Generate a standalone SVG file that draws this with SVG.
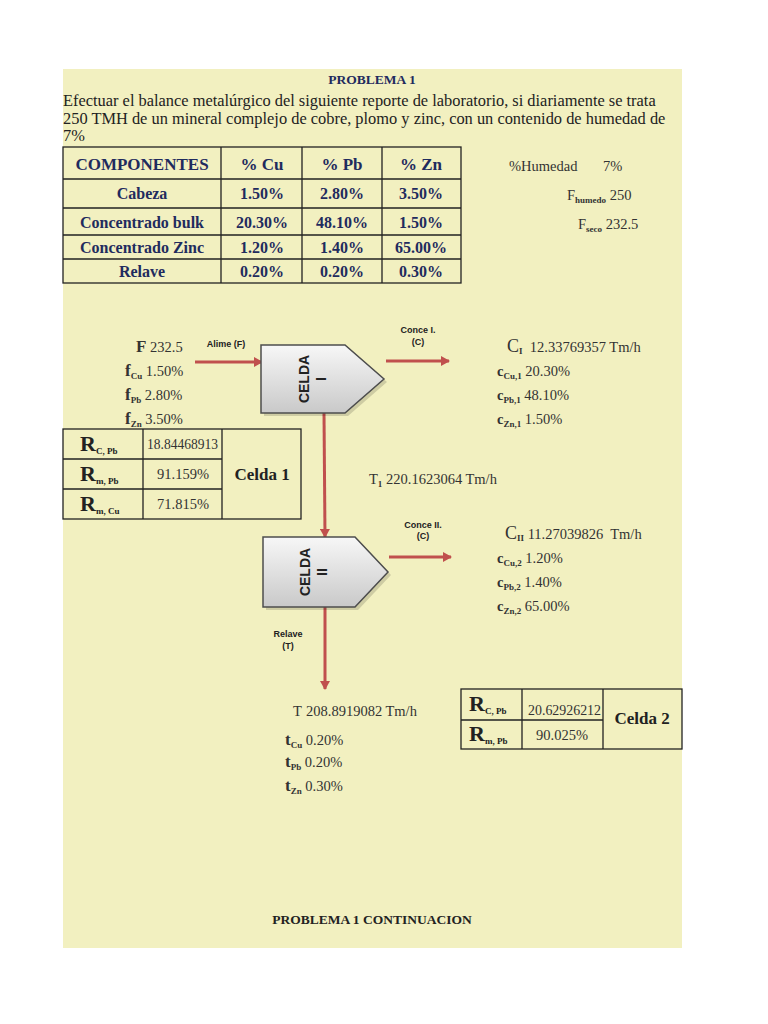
<svg xmlns="http://www.w3.org/2000/svg" width="768" height="1024" viewBox="0 0 768 1024">
<defs>
<marker id="ah" markerWidth="10" markerHeight="10" refX="8" refY="5" orient="auto" markerUnits="userSpaceOnUse"><path d="M0,0 L9,5 L0,10 Z" fill="#c0504d"/></marker>
<linearGradient id="cg" x1="0" y1="0" x2="0" y2="1"><stop offset="0" stop-color="#f7f7f7"/><stop offset="1" stop-color="#c9c9c9"/></linearGradient>
<style>
.bg{fill:#f2f0c0}
.t{font-family:"Liberation Serif",serif;fill:#222}
.h{font-family:"Liberation Serif",serif;font-weight:bold;fill:#1f2b5e}
.v{font-family:"Liberation Serif",serif;font-size:14.5px;fill:#333}
.lb{font-family:"Liberation Sans",Arial,sans-serif;font-weight:bold;font-size:9px;fill:#222}
.cl{font-family:"Liberation Sans",Arial,sans-serif;font-weight:bold;font-size:14px;fill:#222}
.ln{stroke:#222;stroke-width:1.3;fill:none}
.ar{stroke:#c0504d;stroke-width:3;fill:none}
.cell{fill:url(#cg);stroke:#4d4d4d;stroke-width:1.5}
.sb{font-weight:bold;font-size:9px}
</style>
</defs>
<rect width="768" height="1024" fill="#ffffff"/>
<rect class="bg" x="63" y="69" width="619" height="879"/>

<g id="title">
<text class="h" x="372" y="84" font-size="13.5" text-anchor="middle">PROBLEMA 1</text>
<text class="t" x="63" y="106" font-size="16.4">Efectuar el balance metalúrgico del siguiente reporte de laboratorio, si diariamente se trata</text>
<text class="t" x="63" y="124" font-size="16.4">250 TMH de un mineral complejo de cobre, plomo y zinc, con un contenido de humedad de</text>
<text class="t" x="63" y="141" font-size="16.4">7%</text>
</g>

<g id="tabla-componentes">
<rect class="ln" x="63" y="147" width="398" height="136"/>
<path class="ln" d="M63,179 H461 M63,208 H461 M63,235 H461 M63,259 H461 M221,147 V283 M302,147 V283 M382,147 V283"/>
<g class="h" text-anchor="middle" font-size="17">
<text x="142" y="170">COMPONENTES</text>
<text x="262" y="170">% Cu</text>
<text x="342" y="170">% Pb</text>
<text x="421" y="170">% Zn</text>
</g>
<g class="h" text-anchor="middle" font-size="16">
<text x="142" y="199">Cabeza</text><text x="262" y="199">1.50%</text><text x="342" y="199">2.80%</text><text x="421" y="199">3.50%</text>
<text x="142" y="228">Concentrado bulk</text><text x="262" y="228">20.30%</text><text x="342" y="228">48.10%</text><text x="421" y="228">1.50%</text>
<text x="142" y="253">Concentrado Zinc</text><text x="262" y="253">1.20%</text><text x="342" y="253">1.40%</text><text x="421" y="253">65.00%</text>
<text x="142" y="277">Relave</text><text x="262" y="277">0.20%</text><text x="342" y="277">0.20%</text><text x="421" y="277">0.30%</text>
</g>
</g>

<g id="humedad">
<text class="v" x="509" y="171" font-size="17.5">%Humedad</text>
<text class="v" x="603" y="171" font-size="17.5">7%</text>
<text class="v" x="567" y="200">F<tspan class="sb" font-size="7" dy="3">humedo</tspan><tspan dy="-3"> 250</tspan></text>
<text class="v" x="578" y="229">F<tspan class="sb" font-size="7" dy="3">seco</tspan><tspan dy="-3"> 232.5</tspan></text>
</g>

<g id="connectors">
<line class="ar" x1="195" y1="362" x2="262" y2="362" marker-end="url(#ah)"/>
<line class="ar" x1="386" y1="361" x2="449" y2="361" marker-end="url(#ah)"/>
<line class="ar" x1="324" y1="413" x2="325" y2="537" marker-end="url(#ah)"/>
<line class="ar" x1="389" y1="557" x2="451" y2="557" marker-end="url(#ah)"/>
<line class="ar" x1="325" y1="607" x2="325" y2="689" marker-end="url(#ah)"/>
<text class="lb" x="226" y="347" text-anchor="middle">Alime (F)</text>
<text class="lb" x="418" y="333" text-anchor="middle">Conce I.</text>
<text class="lb" x="418" y="345" text-anchor="middle">(C)</text>
<text class="lb" x="423" y="528" text-anchor="middle">Conce II.</text>
<text class="lb" x="423" y="539" text-anchor="middle">(C)</text>
<text class="lb" x="288" y="637" text-anchor="middle">Relave</text>
<text class="lb" x="288" y="649" text-anchor="middle">(T)</text>
</g>

<g id="celda-I">
<path d="M264,348 H348 L387,382 L348,416 H264 Z" fill="#000" opacity="0.15"/>
<path class="cell" d="M261,345 H345 L384,379 L345,413 H261 Z"/>
<text class="cl" transform="translate(309,379) rotate(-90)" text-anchor="middle">CELDA</text>
<text class="cl" transform="translate(326,379) rotate(-90)" text-anchor="middle">I</text>
</g>

<g id="celda-II">
<path d="M266,540 H358 L391,575 L358,610 H266 Z" fill="#000" opacity="0.15"/>
<path class="cell" d="M263,537 H355 L388,572 L355,607 H263 Z"/>
<text class="cl" transform="translate(310,572) rotate(-90)" text-anchor="middle">CELDA</text>
<text class="cl" transform="translate(327,572) rotate(-90)" text-anchor="middle">II</text>
</g>

<g id="alimentacion">
<text class="v" x="136" y="352"><tspan font-size="17" font-weight="bold">F</tspan> 232.5</text>
<text class="v" x="125" y="376"><tspan font-size="17" font-weight="bold">f</tspan><tspan class="sb" dy="3">Cu</tspan><tspan dy="-3"> 1.50%</tspan></text>
<text class="v" x="125" y="400"><tspan font-size="17" font-weight="bold">f</tspan><tspan class="sb" dy="3">Pb</tspan><tspan dy="-3"> 2.80%</tspan></text>
<text class="v" x="125" y="424"><tspan font-size="17" font-weight="bold">f</tspan><tspan class="sb" dy="3">Zn</tspan><tspan dy="-3"> 3.50%</tspan></text>
</g>

<g id="concentrado-I">
<text class="v" x="507" y="352"><tspan font-size="18">C</tspan><tspan class="sb" font-size="10" dy="2">I</tspan><tspan dy="-2">&#160; 12.33769357 Tm/h</tspan></text>
<text class="v" x="497" y="376"><tspan font-weight="bold">c</tspan><tspan class="sb" dy="3">Cu,1</tspan><tspan dy="-3"> 20.30%</tspan></text>
<text class="v" x="497" y="400"><tspan font-weight="bold">c</tspan><tspan class="sb" dy="3">Pb,1</tspan><tspan dy="-3"> 48.10%</tspan></text>
<text class="v" x="497" y="424"><tspan font-weight="bold">c</tspan><tspan class="sb" dy="3">Zn,1</tspan><tspan dy="-3"> 1.50%</tspan></text>
</g>

<g id="relave-1">
<text class="v" x="369" y="484">T<tspan class="sb" dy="3">1</tspan><tspan dy="-3" x="386">220.1623064 Tm/h</tspan></text>
</g>

<g id="concentrado-II">
<text class="v" x="505" y="539"><tspan font-size="18">C</tspan><tspan class="sb" font-size="10" dy="2">II</tspan><tspan dy="-2"> 11.27039826&#160; Tm/h</tspan></text>
<text class="v" x="497" y="563"><tspan font-weight="bold">c</tspan><tspan class="sb" dy="3">Cu,2</tspan><tspan dy="-3"> 1.20%</tspan></text>
<text class="v" x="497" y="587"><tspan font-weight="bold">c</tspan><tspan class="sb" dy="3">Pb,2</tspan><tspan dy="-3"> 1.40%</tspan></text>
<text class="v" x="497" y="611"><tspan font-weight="bold">c</tspan><tspan class="sb" dy="3">Zn,2</tspan><tspan dy="-3"> 65.00%</tspan></text>
</g>

<g id="relave-final">
<text class="v" x="293" y="716">T<tspan x="306">208.8919082 Tm/h</tspan></text>
<text class="v" x="285" y="745"><tspan font-size="17" font-weight="bold">t</tspan><tspan class="sb" dy="3">Cu</tspan><tspan dy="-3"> 0.20%</tspan></text>
<text class="v" x="285" y="767"><tspan font-size="17" font-weight="bold">t</tspan><tspan class="sb" dy="3">Pb</tspan><tspan dy="-3"> 0.20%</tspan></text>
<text class="v" x="285" y="791"><tspan font-size="17" font-weight="bold">t</tspan><tspan class="sb" dy="3">Zn</tspan><tspan dy="-3"> 0.30%</tspan></text>
</g>

<g id="tabla-celda1">
<rect class="ln" x="63" y="429" width="238" height="90"/>
<path class="ln" d="M63,459 H222 M63,489 H222 M143,429 V519 M222,429 V519"/>
<text class="t" x="80" y="451" font-size="22" font-weight="bold">R<tspan class="sb" font-size="10" dy="3">C, Pb</tspan></text>
<text class="t" x="80" y="481" font-size="22" font-weight="bold">R<tspan class="sb" font-size="10" dy="3">m, Pb</tspan></text>
<text class="t" x="80" y="511" font-size="22" font-weight="bold">R<tspan class="sb" font-size="10" dy="3">m, Cu</tspan></text>
<text class="v" x="147" y="449" textLength="71" lengthAdjust="spacingAndGlyphs">18.84468913</text>
<text class="v" x="183" y="479" text-anchor="middle">91.159%</text>
<text class="v" x="183" y="509" text-anchor="middle">71.815%</text>
<text class="t" x="262" y="480" font-size="17" font-weight="bold" text-anchor="middle">Celda 1</text>
</g>

<g id="tabla-celda2">
<rect class="ln" x="461" y="689" width="221" height="60"/>
<path class="ln" d="M461,720 H603 M522,689 V749 M603,689 V749"/>
<text class="t" x="469" y="711" font-size="22" font-weight="bold">R<tspan class="sb" font-size="10" dy="3">C, Pb</tspan></text>
<text class="t" x="469" y="741" font-size="22" font-weight="bold">R<tspan class="sb" font-size="10" dy="3">m, Pb</tspan></text>
<text class="v" x="528" y="715" textLength="73" lengthAdjust="spacingAndGlyphs">20.62926212</text>
<text class="v" x="562" y="740" text-anchor="middle">90.025%</text>
<text class="t" x="642" y="724" font-size="17" font-weight="bold" text-anchor="middle">Celda 2</text>
</g>

<g id="footer">
<text class="t" x="372" y="924" font-size="13.5" font-weight="bold" text-anchor="middle">PROBLEMA 1 CONTINUACION</text>
</g>
</svg>
